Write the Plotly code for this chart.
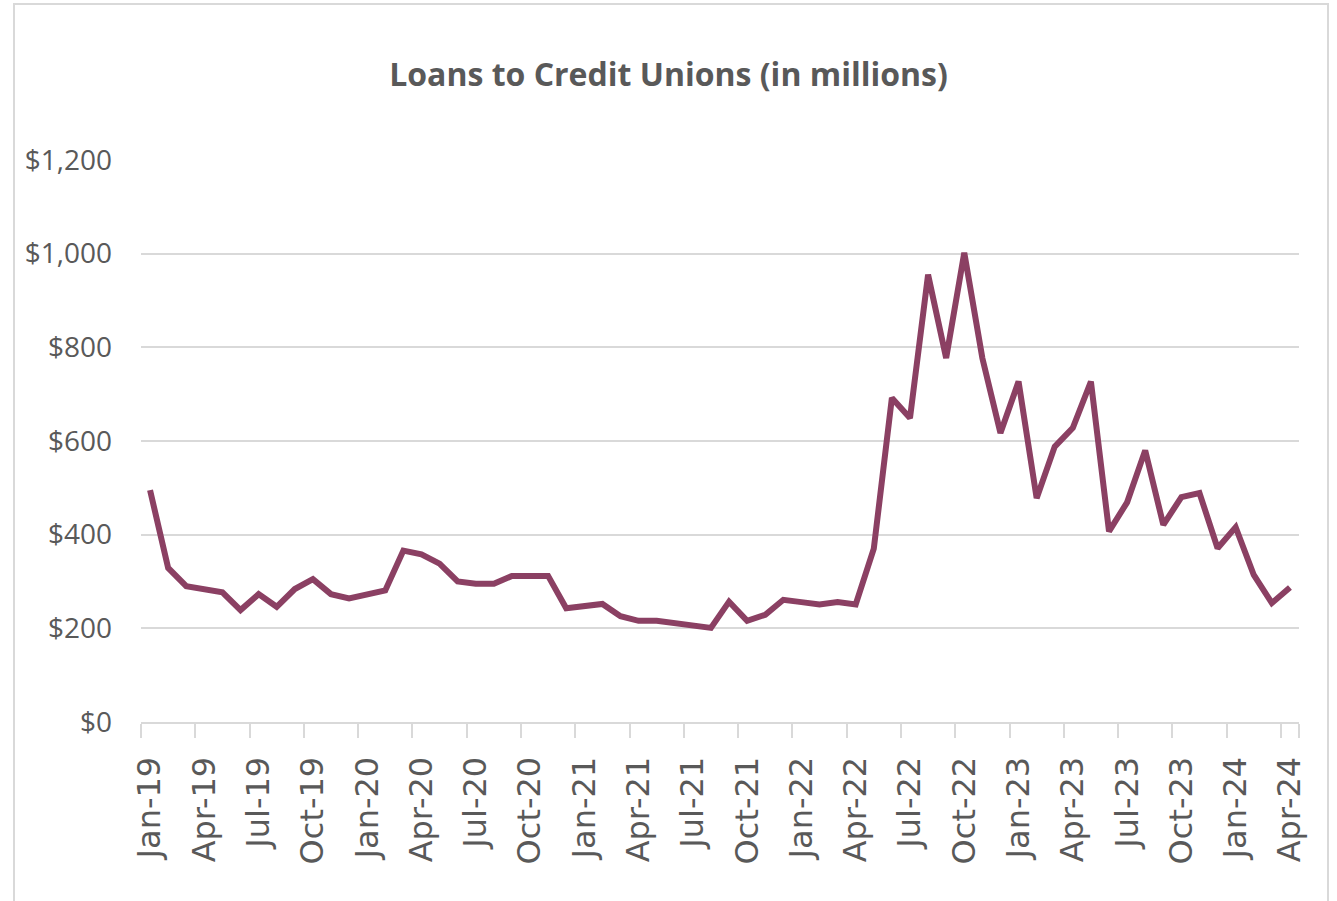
import plotly.graph_objects as go

# Monthly categories, Jan-2019 through Apr-2024
month_names = ["Jan", "Feb", "Mar", "Apr", "May", "Jun",
               "Jul", "Aug", "Sep", "Oct", "Nov", "Dec"]
years = ["19", "20", "21", "22", "23", "24"]
months = [f"{m}-{y}" for y in years for m in month_names][:64]

# Outstanding loans to credit unions, $ millions
loans = [
    495, 329, 290, 282, 277, 239, 273, 246, 284, 305, 273, 264,   # 2019
    271, 281, 366, 358, 338, 300, 295, 295, 312, 312, 312, 243,   # 2020
    247, 252, 226, 216, 216, 211, 206, 201, 257, 216, 229, 261,   # 2021
    256, 251, 256, 251, 370, 692, 649, 955, 777, 1002, 777, 617,  # 2022
    727, 478, 588, 628, 727, 407, 469, 580, 421, 480, 489, 371,   # 2023
    416, 314, 254, 287,                                           # 2024
]

y_ticks = [0, 200, 400, 600, 800, 1000, 1200]
y_tick_labels = ["$0", "$200", "$400", "$600", "$800", "$1,000", "$1,200"]

line_color = "#8B4063"
text_color = "#595959"
grid_color = "#D9D9D9"

fig = go.Figure()
fig.add_trace(go.Scatter(
    x=months,
    y=loans,
    mode="lines",
    line=dict(color=line_color, width=6),
    hoverinfo="x+y",
))

fig.update_layout(
    width=1337,
    height=901,
    margin=dict(l=141, r=38, t=160, b=179),
    paper_bgcolor="white",
    plot_bgcolor="white",
    showlegend=False,
    title=dict(
        text="<b>Loans to Credit Unions (in millions)</b>",
        x=0.5,
        xanchor="center",
        y=1 - 75 / 901,
        yanchor="middle",
        font=dict(family="Open Sans", size=32, color=text_color),
    ),
    xaxis=dict(
        type="category",
        categoryorder="array",
        categoryarray=months,
        tickmode="array",
        tickvals=months[::3],
        ticktext=months[::3],
        tickson="boundaries",
        ticks="outside",
        ticklen=14,
        tickwidth=1.5,
        tickcolor=grid_color,
        showline=True,
        linecolor=grid_color,
        linewidth=2,
        showgrid=False,
        zeroline=False,
        tickangle=-90,
        ticklabelstandoff=20,
        tickfont=dict(family="DejaVu Sans", size=32, color=text_color),
        range=[-0.5, len(months) - 0.5],
    ),
    yaxis=dict(
        range=[0, 1200],
        tickmode="array",
        tickvals=y_ticks,
        ticktext=y_tick_labels,
        showgrid=True,
        gridcolor=grid_color,
        gridwidth=2,
        zeroline=False,
        showline=False,
        ticks="",
        ticklabelstandoff=28,
        tickfont=dict(family="Open Sans", size=28, color=text_color),
    ),
    shapes=[
        # outer chart frame
        dict(
            type="rect",
            xref="paper", yref="paper",
            x0=(14 - 141) / 1158, x1=(1328 - 141) / 1158,
            y0=(722 - 906) / 562, y1=(722 - 4) / 562,
            line=dict(color=grid_color, width=2),
            fillcolor="rgba(0,0,0,0)",
            layer="below",
        )
    ],
)

fig.write_html("out.html")
